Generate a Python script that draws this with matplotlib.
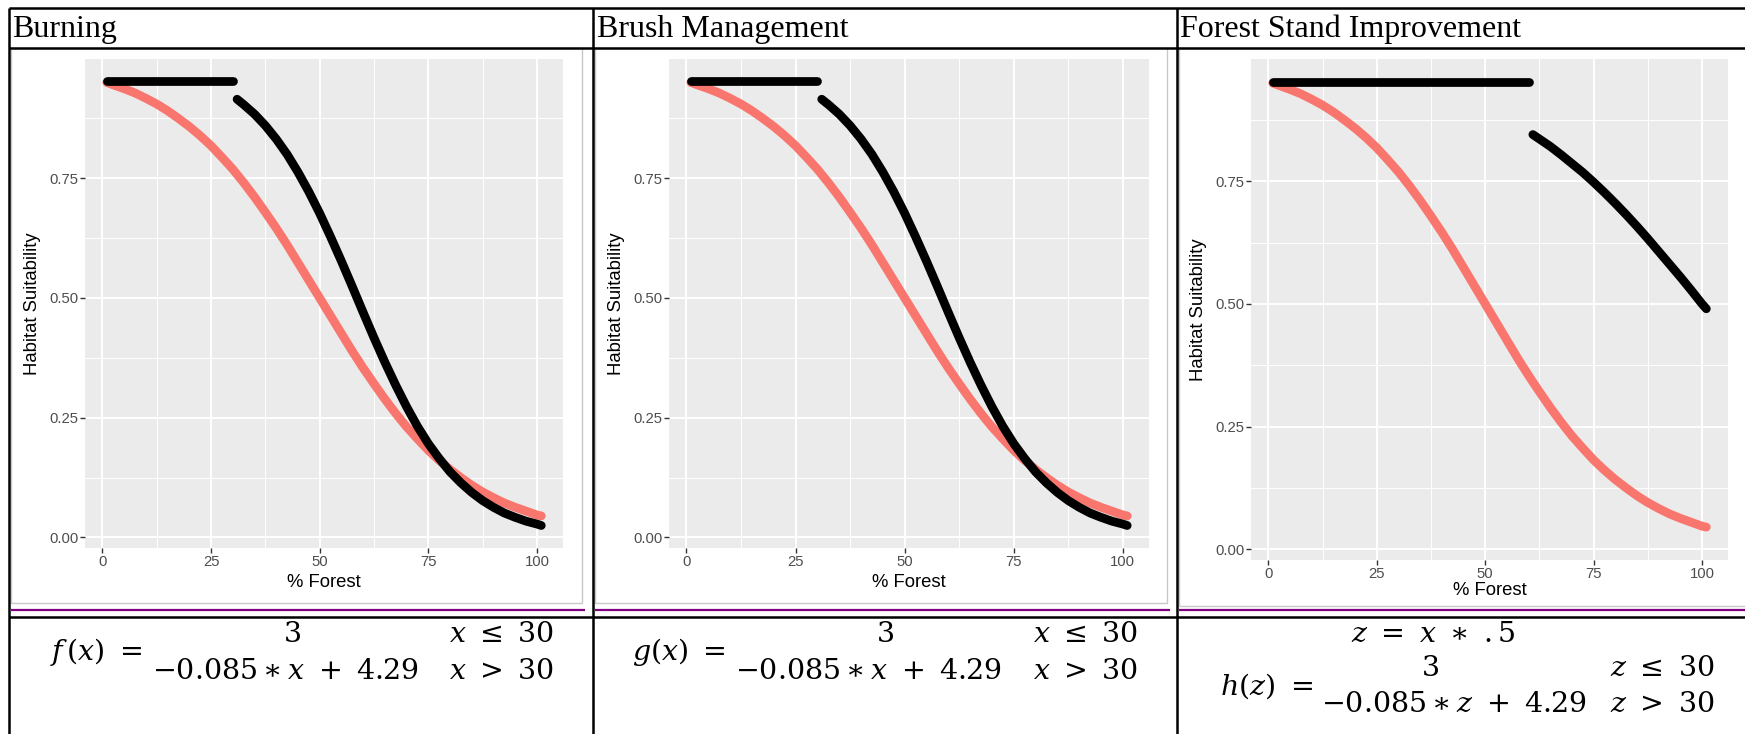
import matplotlib
matplotlib.use("Agg")
import matplotlib.pyplot as plt

# size of the page in pixels
W, H = 1745, 734

# curve readings, % forest on x, habitat suitability on y
x_red = [1, 2.5, 5, 7.5, 10, 12.5, 15, 17.5, 20, 22.5, 25, 27.5, 30, 32.5, 35, 37.5, 40,
         42.5, 45, 47.5, 50, 52.5, 55, 57.5, 60, 62.5, 65, 67.5, 70, 72.5, 75, 77.5, 80,
         82.5, 85, 87.5, 90, 92.5, 95, 97.5, 100, 101]
y_red = [0.950, 0.945, 0.937, 0.928, 0.917, 0.905, 0.891, 0.875, 0.858, 0.839, 0.818,
         0.794, 0.769, 0.741, 0.711, 0.679, 0.646, 0.611, 0.574, 0.537, 0.500, 0.463,
         0.426, 0.389, 0.354, 0.321, 0.289, 0.259, 0.231, 0.206, 0.182, 0.161, 0.142,
         0.125, 0.109, 0.095, 0.083, 0.072, 0.063, 0.055, 0.047, 0.045]

# burning / brush management: flat up to 30, then drops
x_flat30 = [1, 30]
y_flat30 = [0.953, 0.953]
x_drop30 = [31, 32.5, 35, 37.5, 40, 42.5, 45, 47.5, 50, 52.5, 55, 57.5, 60, 62.5, 65,
            67.5, 70, 72.5, 75, 77.5, 80, 82.5, 85, 87.5, 90, 92.5, 95, 97.5, 100, 101]
y_drop30 = [0.915, 0.904, 0.884, 0.860, 0.832, 0.800, 0.763, 0.722, 0.677, 0.628,
            0.577, 0.524, 0.470, 0.417, 0.366, 0.318, 0.273, 0.232, 0.196, 0.165,
            0.137, 0.114, 0.094, 0.077, 0.063, 0.051, 0.042, 0.034, 0.028, 0.025]

# forest stand improvement: flat up to 60, then drops
x_flat60 = [1, 60]
y_flat60 = [0.953, 0.953]
x_drop60 = [61, 62.5, 65, 67.5, 70, 72.5, 75, 77.5, 80, 82.5, 85, 87.5, 90, 92.5, 95,
            97.5, 100, 101]
y_drop60 = [0.845, 0.836, 0.821, 0.804, 0.786, 0.768, 0.748, 0.727, 0.705, 0.682,
            0.658, 0.633, 0.607, 0.581, 0.555, 0.528, 0.500, 0.490]

titles = ["Burning", "Brush Management", "Forest Stand Improvement"]
x_ticks = [0, 25, 50, 75, 100]
y_ticks = [0.0, 0.25, 0.5, 0.75]
y_ticklabels = ["0.00", "0.25", "0.50", "0.75"]

RED = "#F8766D"
SANS = ["Liberation Sans", "DejaVu Sans"]
SERIF = ["Liberation Serif", "DejaVu Serif"]
plt.rcParams["mathtext.fontset"] = "dejavuserif"


def rect(l, t, r, b):
    # pixel box (from top-left) -> figure fraction
    return [l / W, 1 - b / H, (r - l) / W, (b - t) / H]


fig = plt.figure(figsize=(W / 100, H / 100), dpi=100)

# page layer: table rules, headers, formulas
page = fig.add_axes([0, 0, 1, 1])
page.set_xlim(0, W)
page.set_ylim(H, 0)
page.axis("off")

# image frames of the pasted plots
for l, t, r, b in [(11, 48, 582, 603), (595, 48, 1167, 603), (1179, 48, 1750, 606)]:
    page.plot([l, r, r, l, l], [t, t, b, b, t], color="#C8C8C8", lw=1.0, clip_on=False)

# purple double-line pieces
for l, r in [(11, 585), (595, 1170), (1179, 1745)]:
    page.plot([l, r], [610, 610], color="#800080", lw=1.6, solid_capstyle="butt")

# table rules
for y in [8, 48, 617]:
    page.plot([9, W], [y, y], color="black", lw=1.8, solid_capstyle="butt")
for x in [9, 593, 1177]:
    page.plot([x, x], [8, H], color="black", lw=1.8, solid_capstyle="butt")

for x0, title in zip([12, 597, 1180], titles):
    page.text(x0, 29, title, fontsize=23, family=SERIF, ha="left", va="center")

fs = 20.5
# f(x)
page.text(142, 652, r"$f\,(x)\ =$", fontsize=fs, ha="right", va="center")
page.text(292, 634, r"$3$", fontsize=fs, ha="center", va="center")
page.text(152, 671, r"$-0.085\ast x\ +\ 4.29$", fontsize=fs, ha="left", va="center")
page.text(449, 634, r"$x\ \leq\ 30$", fontsize=fs, ha="left", va="center")
page.text(449, 671, r"$x\ >\ 30$", fontsize=fs, ha="left", va="center")
# g(x)
page.text(726, 652, r"$g(x)\ =$", fontsize=fs, ha="right", va="center")
page.text(885, 634, r"$3$", fontsize=fs, ha="center", va="center")
page.text(735, 671, r"$-0.085\ast x\ +\ 4.29$", fontsize=fs, ha="left", va="center")
page.text(1033, 634, r"$x\ \leq\ 30$", fontsize=fs, ha="left", va="center")
page.text(1033, 671, r"$x\ >\ 30$", fontsize=fs, ha="left", va="center")
# h(z)
page.text(1433, 634, r"$z\ =\ x\ \ast\ .5$", fontsize=fs, ha="center", va="center")
page.text(1313, 686, r"$h(z)\ =$", fontsize=fs, ha="right", va="center")
page.text(1430, 668, r"$3$", fontsize=fs, ha="center", va="center")
page.text(1321, 704, r"$-0.085\ast z\ +\ 4.29$", fontsize=fs, ha="left", va="center")
page.text(1610, 668, r"$z\ \leq\ 30$", fontsize=fs, ha="left", va="center")
page.text(1610, 704, r"$z\ >\ 30$", fontsize=fs, ha="left", va="center")


def ggpanel(box, flat_x, flat_y, drop_x, drop_y):
    ax = fig.add_axes(rect(*box))
    ax.set_facecolor("#EBEBEB")
    for s in ax.spines.values():
        s.set_visible(False)
    ax.set_xlim(-4, 106)
    ax.set_ylim(-0.022, 0.999)
    ax.set_xticks(x_ticks)
    ax.set_xticks([12.5, 37.5, 62.5, 87.5], minor=True)
    ax.set_yticks(y_ticks)
    ax.set_yticklabels(y_ticklabels)
    ax.set_yticks([0.125, 0.375, 0.625, 0.875], minor=True)
    ax.grid(which="major", color="white", lw=1.4)
    ax.grid(which="minor", color="white", lw=0.7)
    ax.set_axisbelow(True)
    ax.tick_params(which="major", length=3.3, width=1.0, color="#333333",
                   labelcolor="#4D4D4D", labelsize=10.7, pad=1.5)
    ax.tick_params(which="minor", length=0)
    for lab in ax.get_xticklabels() + ax.get_yticklabels():
        lab.set_family(SANS)
    ax.plot(x_red, y_red, color=RED, lw=6.3, solid_capstyle="round", solid_joinstyle="round")
    ax.plot(flat_x, flat_y, color="black", lw=6.3, solid_capstyle="round")
    ax.plot(drop_x, drop_y, color="black", lw=6.3, solid_capstyle="round", solid_joinstyle="round")
    ax.set_xlabel("% Forest", fontsize=13.3, family=SANS, labelpad=4)
    ax.set_ylabel("Habitat Suitability", fontsize=13.3, family=SANS, labelpad=6)
    return ax


ggpanel((85, 59, 563, 548), x_flat30, y_flat30, x_drop30, y_drop30)
ggpanel((669, 59, 1149, 548), x_flat30, y_flat30, x_drop30, y_drop30)
p3 = ggpanel((1251, 59, 1728, 560), x_flat60, y_flat60, x_drop60, y_drop60)
p3.xaxis.labelpad = 1

fig.savefig("out.png", dpi=100)
